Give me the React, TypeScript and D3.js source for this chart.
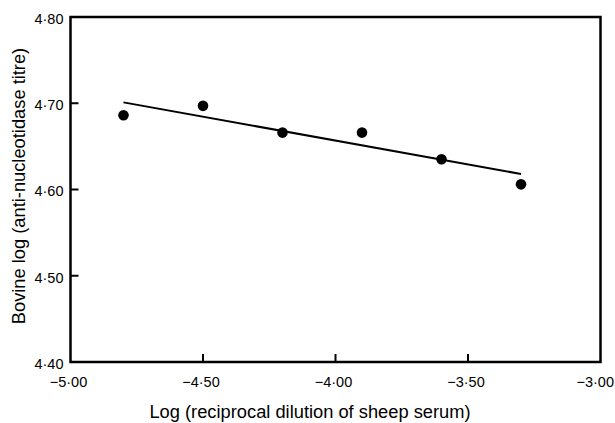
import React from "react";
import * as d3 from "d3";

const xValues = [-4.8, -4.5, -4.2, -3.9, -3.6, -3.3];
const yValues = [4.686, 4.697, 4.666, 4.666, 4.635, 4.606];
const fitX = [-4.8, -3.3];
const fitY = [4.701, 4.618];
const xTicks = [-5.0, -4.5, -4.0, -3.5, -3.0];
const yTicks = [4.4, 4.5, 4.6, 4.7, 4.8];
const xTitle = "Log (reciprocal dilution of sheep serum)";
const yTitle = "Bovine log (anti-nucleotidase titre)";

const W = 615;
const H = 423;
const left = 70.5;
const right = 600.5;
const top = 17;
const bottom = 362;
const font = "'Liberation Sans', Arial, Helvetica, sans-serif";

const fmt = (v: number) => {
  const s = Math.abs(v).toFixed(2).replace(".", "\u00B7");
  return (v < 0 ? "\u2212" : "") + s;
};

export default function App() {
  const x = d3.scaleLinear().domain([-5, -3]).range([left, right]);
  const y = d3.scaleLinear().domain([4.4, 4.8]).range([bottom, top]);
  const line = d3
    .line<number>()
    .x((_, i) => x(fitX[i]))
    .y((d) => y(d));

  return (
    <svg
      width={W}
      height={H}
      style={{ position: "absolute", left: 0, top: 0, background: "#fff" }}
    >
      <rect
        x={left}
        y={top}
        width={right - left}
        height={bottom - top}
        fill="none"
        stroke="#000"
        strokeWidth={2.5}
      />
      {yTicks.slice(1, -1).map((t) => (
        <line
          key={"yt" + t}
          x1={left}
          x2={left + 8}
          y1={y(t)}
          y2={y(t)}
          stroke="#000"
          strokeWidth={2}
        />
      ))}
      {xTicks.slice(1, -1).map((t) => (
        <line
          key={"xt" + t}
          x1={x(t)}
          x2={x(t)}
          y1={bottom}
          y2={bottom - 8}
          stroke="#000"
          strokeWidth={2}
        />
      ))}
      {yTicks.map((t) => (
        <text
          key={"yl" + t}
          x={63.5}
          y={y(t) + 3}
          textAnchor="end"
          dominantBaseline="middle"
          fontFamily={font}
          fontSize={14.5}
          fill="#000"
        >
          {fmt(t)}
        </text>
      ))}
      {xTicks.map((t, i) => {
        const last = i === xTicks.length - 1;
        return (
          <text
            key={"xl" + t}
            x={last ? 614 : x(t) - 2}
            y={bottom + 21}
            textAnchor={last ? "end" : "middle"}
            dominantBaseline="middle"
            fontFamily={font}
            fontSize={14.5}
            fill="#000"
          >
            {fmt(t)}
          </text>
        );
      })}
      <path
        d={line(fitY) || ""}
        fill="none"
        stroke="#000"
        strokeWidth={2}
      />
      {xValues.map((v, i) => (
        <circle key={"p" + i} cx={x(v)} cy={y(yValues[i])} r={5.3} fill="#000" />
      ))}
      <text
        x={310}
        y={413}
        textAnchor="middle"
        dominantBaseline="middle"
        fontFamily={font}
        fontSize={18.3}
        fill="#000"
      >
        {xTitle}
      </text>
      <text
        transform={`translate(20, 186) rotate(-90)`}
        textAnchor="middle"
        dominantBaseline="middle"
        fontFamily={font}
        fontSize={18.3}
        fill="#000"
      >
        {yTitle}
      </text>
    </svg>
  );
}
